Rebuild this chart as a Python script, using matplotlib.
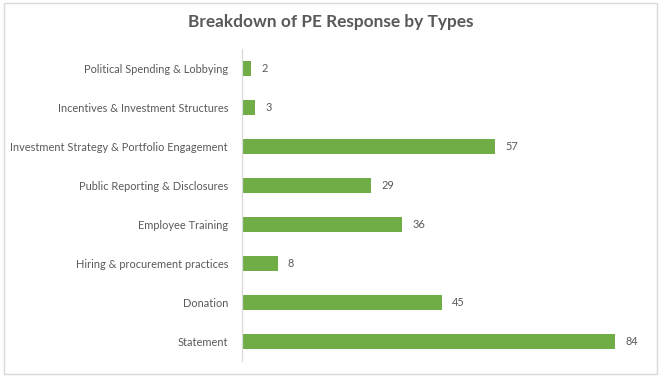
import matplotlib.pyplot as plt
from matplotlib.patches import Rectangle

categories = [
    "Statement",
    "Donation",
    "Hiring & procurement practices",
    "Employee Training",
    "Public Reporting & Disclosures",
    "Investment Strategy & Portfolio Engagement",
    "Incentives & Investment Structures",
    "Political Spending & Lobbying",
]
values = [84, 45, 8, 36, 29, 57, 3, 2]

plt.rcParams["font.family"] = ["Lato", "DejaVu Sans"]
grey = "#595959"
green = "#70AD47"

W, H = 661, 377
fig = plt.figure(figsize=(W / 100, H / 100), dpi=100)
ax = fig.add_axes([242 / W, 16 / H, 400 / W, 312 / H])

pos = range(len(categories))
ax.barh(pos, values, height=0.41, color=green, zorder=2)
for y, v in zip(pos, values):
    ax.text(v + 2.3, y, str(v), va="center", ha="left", fontsize=7.9, color=grey)

ax.set_xlim(0, 90)
ax.set_ylim(-0.5, len(categories) - 0.5)
ax.set_yticks(list(pos))
ax.set_yticklabels(categories, fontsize=7.9, color=grey)
ax.tick_params(axis="y", length=0, pad=10)
ax.set_xticks([])
for s in ["top", "right", "bottom"]:
    ax.spines[s].set_visible(False)
ax.spines["left"].set_color("#D9D9D9")
ax.spines["left"].set_linewidth(0.9)

fig.text(0.5, 1 - 22 / H, "Breakdown of PE Response by Types", ha="center", va="center",
         fontsize=12.4, fontweight="bold", color=grey)

fig.patches.append(Rectangle((4 / W, 3 / H), 653 / W, 371 / H, transform=fig.transFigure,
                             fill=False, edgecolor="#D9D9D9", linewidth=1))

fig.savefig("out.png", dpi=100)
